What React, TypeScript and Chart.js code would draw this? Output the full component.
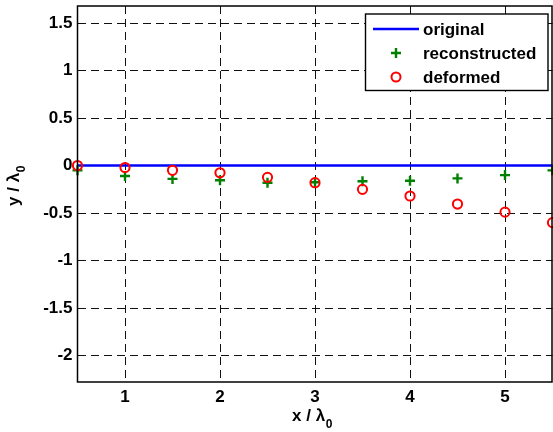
import React, { useEffect, useRef } from "react";
import { Chart, registerables } from "chart.js";

Chart.register(...registerables);

const xValues = [0.5, 1, 1.5, 2, 2.5, 3, 3.5, 4, 4.5, 5, 5.5];
const originalY = [0, 0, 0, 0, 0, 0, 0, 0, 0, 0, 0];
const reconstructedY = [-0.05, -0.11, -0.14, -0.155, -0.18, -0.175, -0.165, -0.16, -0.135, -0.1, -0.05];
const deformedY = [0, -0.02, -0.05, -0.076, -0.124, -0.18, -0.25, -0.32, -0.405, -0.49, -0.6];
const xTicks = [1, 2, 3, 4, 5];
const yTicks = [-2, -1.5, -1, -0.5, 0, 0.5, 1, 1.5];
const seriesLabels = ["original", "reconstructed", "deformed"];
const xLabelMain = "x / λ";
const yLabelMain = "y / λ";
const labelSub = "0";

const FONT = "Liberation Sans, Arial, Helvetica, sans-serif";

const decorPlugin = {
  id: "decor",
  afterDatasetsDraw(chart: any) {
    const { ctx, chartArea } = chart;
    const { left, right, top, bottom } = chartArea;
    ctx.save();
    // frame
    ctx.strokeStyle = "#000";
    ctx.lineWidth = 1.5;
    ctx.strokeRect(left, top, right - left - 0.5, bottom - top);

    // legend
    const lx = 365.5, ly = 14, lw = 182.5, lh = 76.5;
    ctx.fillStyle = "#fff";
    ctx.fillRect(lx, ly, lw, lh);
    ctx.strokeStyle = "#000";
    ctx.lineWidth = 1.4;
    ctx.strokeRect(lx, ly, lw, lh);
    const rows = [29, 53, 77];
    ctx.font = `bold 17px ${FONT}`;
    ctx.textAlign = "left";
    ctx.textBaseline = "middle";
    const ds = chart.data.datasets;
    ctx.strokeStyle = ds[0].borderColor;
    ctx.lineWidth = 2.5;
    ctx.beginPath();
    ctx.moveTo(373, rows[0]);
    ctx.lineTo(419, rows[0]);
    ctx.stroke();
    ctx.strokeStyle = ds[1].borderColor;
    ctx.lineWidth = 2.4;
    ctx.beginPath();
    ctx.moveTo(391, rows[1]);
    ctx.lineTo(401, rows[1]);
    ctx.moveTo(396, rows[1] - 5);
    ctx.lineTo(396, rows[1] + 5);
    ctx.stroke();
    ctx.strokeStyle = ds[2].borderColor;
    ctx.lineWidth = 2;
    ctx.beginPath();
    ctx.arc(396, rows[2], 4.5, 0, Math.PI * 2);
    ctx.stroke();
    ctx.fillStyle = "#000";
    for (let i = 0; i < 3; i++) {
      ctx.fillText(ds[i].label, 423, rows[i] + 1);
    }

    // x title
    ctx.font = `bold 17px ${FONT}`;
    const w1 = ctx.measureText(xLabelMain).width;
    ctx.font = `bold 12px ${FONT}`;
    const w2 = ctx.measureText(labelSub).width;
    const cx = (left + right) / 2 - 3;
    const sx = cx - (w1 + w2) / 2;
    ctx.textBaseline = "alphabetic";
    ctx.font = `bold 17px ${FONT}`;
    ctx.fillText(xLabelMain, sx, 421);
    ctx.font = `bold 12px ${FONT}`;
    ctx.fillText(labelSub, sx + w1 + 0.5, 428);

    // y title
    ctx.save();
    ctx.translate(18.5, 186);
    ctx.rotate(-Math.PI / 2);
    ctx.font = `bold 17px ${FONT}`;
    const v1 = ctx.measureText(yLabelMain).width;
    ctx.font = `bold 12px ${FONT}`;
    const v2 = ctx.measureText(labelSub).width;
    const st = -(v1 + v2) / 2;
    ctx.font = `bold 17px ${FONT}`;
    ctx.fillText(yLabelMain, st, 0);
    ctx.font = `bold 12px ${FONT}`;
    ctx.fillText(labelSub, st + v1 + 0.5, 6);
    ctx.restore();

    ctx.restore();
  },
};

const zeroPad = (s: any) => {
  s.paddingTop = 0;
  s.paddingBottom = 0;
  s.paddingLeft = 0;
  s.paddingRight = 0;
};

export default function App() {
  const canvasRef = useRef<HTMLCanvasElement | null>(null);

  useEffect(() => {
    document.body.style.margin = "0";
    const canvas = canvasRef.current;
    if (!canvas) return;
    const chart = new Chart(canvas, {
      type: "line",
      data: {
        datasets: [
          {
            label: seriesLabels[0],
            data: xValues.map((x, i) => ({ x, y: originalY[i] })),
            borderColor: "#0000ff",
            backgroundColor: "#0000ff",
            borderWidth: 2.5,
            pointRadius: 0,
            showLine: true,
            order: 3,
          },
          {
            label: seriesLabels[1],
            data: xValues.map((x, i) => ({ x, y: reconstructedY[i] })),
            borderColor: "#008000",
            backgroundColor: "#008000",
            borderWidth: 2.4,
            pointStyle: "cross",
            pointRadius: 5,
            pointBorderWidth: 2.4,
            showLine: false,
            order: 2,
          },
          {
            label: seriesLabels[2],
            data: xValues.map((x, i) => ({ x, y: deformedY[i] })),
            borderColor: "#ff0000",
            backgroundColor: "rgba(0,0,0,0)",
            borderWidth: 2,
            pointStyle: "circle",
            pointRadius: 4.6,
            pointBorderWidth: 2,
            showLine: false,
            order: 1,
          },
        ],
      },
      options: {
        animation: false,
        responsive: false,
        devicePixelRatio: 1,
        clip: false,
        layout: { autoPadding: false, padding: { top: 6, right: 0.5, left: 0, bottom: 0 } },
        plugins: {
          legend: { display: false },
          tooltip: { enabled: false },
        },
        scales: {
          x: {
            type: "linear",
            min: 0.5,
            max: 5.5,
            afterBuildTicks: (s: any) => {
              s.ticks = xTicks.map((v) => ({ value: v }));
            },
            afterFit: (s: any) => {
              s.height = 50;
              zeroPad(s);
            },
            grid: { color: "#111", lineWidth: 1, drawTicks: false },
            border: { display: false, dash: [8, 5] },
            ticks: {
              color: "#000",
              padding: 5,
              font: { family: FONT, size: 17, weight: "bold" },
              maxRotation: 0,
              callback: (v: any) => String(v),
            },
          },
          y: {
            type: "linear",
            min: -2.277,
            max: 1.679,
            afterBuildTicks: (s: any) => {
              s.ticks = yTicks.map((v) => ({ value: v }));
            },
            afterFit: (s: any) => {
              s.width = 77.5;
              zeroPad(s);
            },
            grid: { color: "#111", lineWidth: 1, drawTicks: false },
            border: { display: false, dash: [8, 5] },
            ticks: {
              color: "#000",
              padding: 5,
              font: { family: FONT, size: 17, weight: "bold" },
              callback: (v: any) => String(v),
            },
          },
        },
      },
      plugins: [decorPlugin],
    });
    return () => chart.destroy();
  }, []);

  return (
    <div style={{ width: 553, height: 432, background: "#fff" }}>
      <canvas ref={canvasRef} width={553} height={432} style={{ display: "block", width: 553, height: 432 }} />
    </div>
  );
}
